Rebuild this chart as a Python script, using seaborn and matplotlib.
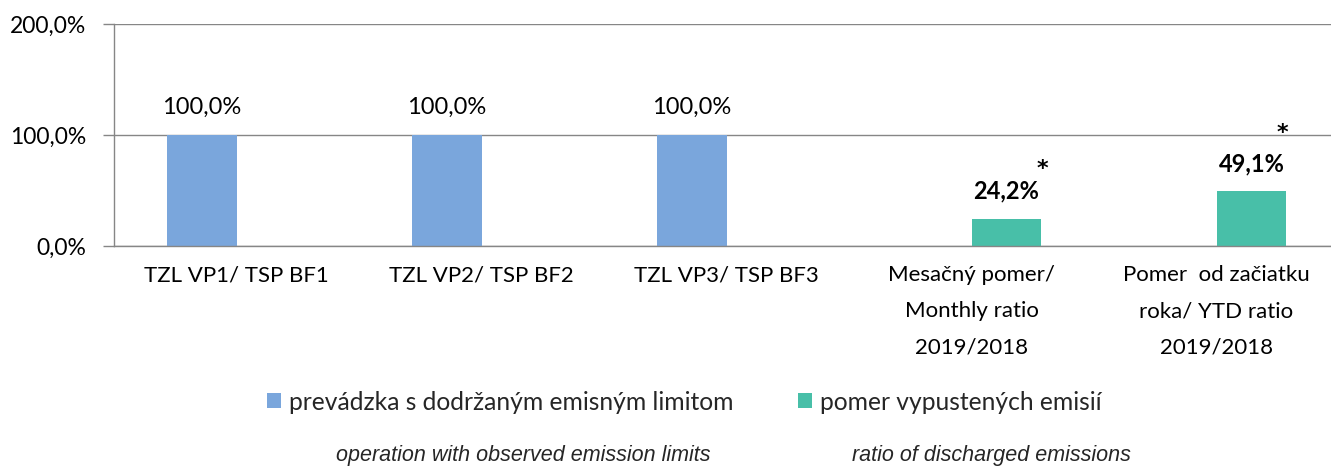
import numpy as np
import pandas as pd
import matplotlib
matplotlib.use("Agg")
import matplotlib.pyplot as plt
import seaborn as sns
from matplotlib.patches import Patch

categories = ["TZL VP1/ TSP BF1", "TZL VP2/ TSP BF2", "TZL VP3/ TSP BF3",
              "Mesačný pomer/\nMonthly ratio\n2019/2018",
              "Pomer  od začiatku\nroka/ YTD ratio\n2019/2018"]
series_names = ["prevádzka s dodržaným emisným limitom", "pomer vypustených emisií"]
series_en = ["operation with observed emission limits", "ratio of discharged emissions"]
compliance = [1.0, 1.0, 1.0, np.nan, np.nan]
ratio = [np.nan, np.nan, np.nan, 0.242, 0.491]
ratio_labels = ["", "", "", "24,2%", "49,1%"]
compliance_labels = ["100,0%", "100,0%", "100,0%", "", ""]
ytick_vals = [0.0, 1.0, 2.0]
ytick_labels = ["0,0%", "100,0%", "200,0%"]

colors = ["#7AA6DC", "#48BFA8"]
grid_c = "#868686"

sns.set_theme(style="white")
plt.rcParams["font.family"] = ["Lato", "DejaVu Sans"]

df = pd.DataFrame({
    "cat": categories * 2,
    "series": [series_names[0]] * 5 + [series_names[1]] * 5,
    "value": compliance + ratio,
})
df["value"] = df["value"].fillna(0.0)

W, H = 1331, 467
fig = plt.figure(figsize=(W / 100, H / 100), dpi=100)
ax = fig.add_axes([114 / W, 1 - 246 / H, 1225 / W, (246 - 24) / H])

sns.barplot(data=df, x="cat", y="value", hue="series", order=categories,
            hue_order=series_names, palette=colors, width=0.571, dodge=True,
            saturation=1, legend=False, linewidth=0, ax=ax)

ax.set_ylim(0, 2.0)
ax.set_xlim(-0.5, len(categories) - 0.5)
ax.set_yticks(ytick_vals)
ax.set_yticklabels(ytick_labels, fontsize=16.5, color="black")
ax.set_xticks(range(len(categories)))
ax.set_xticklabels(categories, fontsize=16, color="black", linespacing=2.0)
ax.set_xticks(np.arange(-0.5, len(categories), 1.0), minor=True)
ax.tick_params(axis="x", which="major", length=0, pad=14)
ax.tick_params(axis="x", which="minor", length=7, width=1, color=grid_c, direction="out")
ax.tick_params(axis="y", length=8, width=1, color=grid_c, direction="out", left=True, pad=12)
ax.set_xlabel("")
ax.set_ylabel("")
ax.yaxis.grid(True, color=grid_c, lw=1)
ax.set_axisbelow(True)
for s in ["top", "right"]:
    ax.spines[s].set_visible(False)
for s in ["left", "bottom"]:
    ax.spines[s].set_color(grid_c)
    ax.spines[s].set_linewidth(1)

# value labels
for cont, labs, vals, bold in [(ax.containers[0], compliance_labels, compliance, False),
                               (ax.containers[1], ratio_labels, ratio, True)]:
    for bar, lab, v in zip(cont.patches, labs, vals):
        if not lab:
            continue
        xc = bar.get_x() + bar.get_width() / 2
        ax.annotate(lab, (xc, v), xytext=(0, 20), textcoords="offset points",
                    ha="center", va="center", fontsize=17,
                    fontweight="bold" if bold else "normal", color="black")

# asterisks
star_offsets = {3: (26, 36), 4: (22, 42)}
for i, (dx, dy) in star_offsets.items():
    bar = ax.containers[1].patches[i]
    xc = bar.get_x() + bar.get_width() / 2
    ax.annotate("*", (xc, ratio[i]), xytext=(dx, dy), textcoords="offset points",
                ha="center", va="center", fontsize=16, fontweight="bold", color="black",
                family=["DejaVu Sans"])

handles = [Patch(facecolor=c, edgecolor="none") for c in colors]
fig.legend(handles, series_names, loc="center", bbox_to_anchor=(684.5 / W, 1 - 402 / H),
           ncol=2, frameon=False, fontsize=17.7, handlelength=0.57, handleheight=0.57,
           handletextpad=0.33, columnspacing=2.6, borderpad=0, borderaxespad=0)

fig.text(523 / W, 1 - 456 / H, series_en[0], ha="center", va="center",
         fontsize=15.5, style="italic", family=["Liberation Sans", "DejaVu Sans"])
fig.text(991 / W, 1 - 456 / H, series_en[1], ha="center", va="center",
         fontsize=15.5, style="italic", family=["Liberation Sans", "DejaVu Sans"])

fig.savefig("out.png", dpi=100)
